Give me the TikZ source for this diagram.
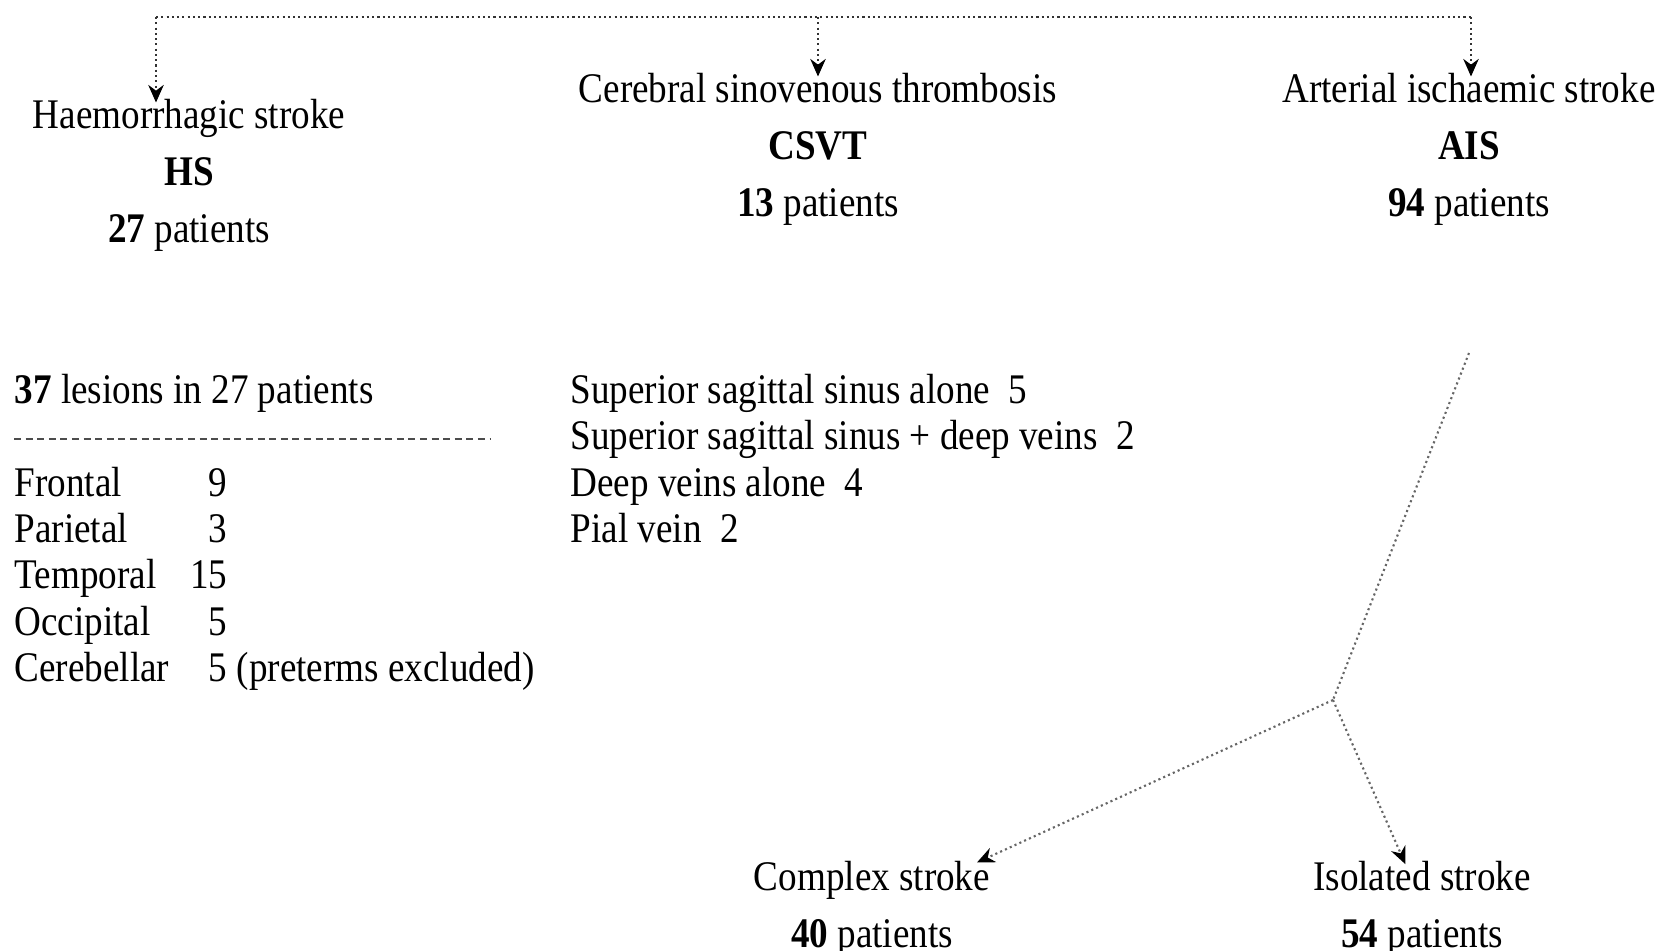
\documentclass[tikz,border=0pt]{standalone}
\usepackage{fontspec}
\setmainfont{Liberation Serif}[FakeStretch=0.88]
\usetikzlibrary{arrows.meta}

\tikzset{
  txt/.style={inner sep=0pt, align=center, font=\fontsize{12}{16.2}\selectfont},
  tbl/.style={inner sep=0pt, font=\fontsize{12}{13.1}\selectfont},
  dots/.style={line width=0.6pt, dash pattern=on 0.6pt off 0.9pt, black!80},
  arr/.style={dots, -{Stealth[length=5pt,width=4.4pt,black]}, shorten >=-1pt},
}

\begin{document}
\begin{tikzpicture}
  \useasboundingbox (0,0) rectangle (16.62,-9.51);
  % the three stroke types
  \node[txt, anchor=north] (hs) at (1.89,-0.99)
    {Haemorrhagic stroke\\ \textbf{HS}\\ \textbf{27} patients};
  \node[txt, anchor=north] (csvt) at (8.18,-0.73)
    {Cerebral sinovenous thrombosis\\ \textbf{CSVT}\\ \textbf{13} patients};
  \node[txt, anchor=north] (ais) at (14.69,-0.73)
    {Arterial ischaemic stroke\\ \textbf{AIS}\\ \textbf{94} patients};
  % bracket on top
  \coordinate (tl) at (1.56,-0.17);
  \coordinate (tr) at (14.71,-0.17);
  \draw[dots] (tl) -- (tr);
  \draw[arr] (tl) -- (hs.north -| tl);
  \draw[arr] (csvt.north |- tl) -- (csvt.north);
  \draw[arr] (tr) -- (ais.north -| tr);
  % HS lesion sites
  \node[tbl, anchor=west] (lesions) at (0.14,-3.93) {\textbf{37} lesions in 27 patients};
  \draw[black!70, line width=0.5pt, dash pattern=on 2pt off 1.3pt] (0.14,-4.39) -- (4.90,-4.39);
  \node[tbl, anchor=north west] (sites) at (0.14,-4.64) {%
    \begin{tabular}{@{}l@{\hspace{6pt}}r@{}l@{}}
      Frontal & 9 \\
      Parietal & 3 \\
      Temporal & 15 \\
      Occipital & 5 \\
      Cerebellar & 5 & \ (preterms excluded)
    \end{tabular}};
  % CSVT sites
  \node[tbl, anchor=north west] (sinus) at (5.70,-3.71) {%
    \begin{tabular}{@{}l@{}}
      Superior sagittal sinus alone\ \ 5 \\
      Superior sagittal sinus + deep veins\ \ 2 \\
      Deep veins alone\ \ 4 \\
      Pial vein\ \ 2
    \end{tabular}};
  % AIS split
  \node[txt, anchor=north] (complex) at (8.72,-8.61)
    {Complex stroke\\ \textbf{40} patients};
  \node[txt, anchor=north] (isolated) at (14.22,-8.61)
    {Isolated stroke\\ \textbf{54} patients};
  \coordinate (aistail) at (14.69,-3.53);
  \coordinate (split) at (13.33,-7.00);
  \draw[dots, black!60] (aistail) -- (split);
  \draw[arr, black!60] (split) -- ([xshift=-3pt]complex.north east);
  \draw[arr, black!60] (split) -- ([xshift=-0.18cm]isolated.north);
\end{tikzpicture}
\end{document}
